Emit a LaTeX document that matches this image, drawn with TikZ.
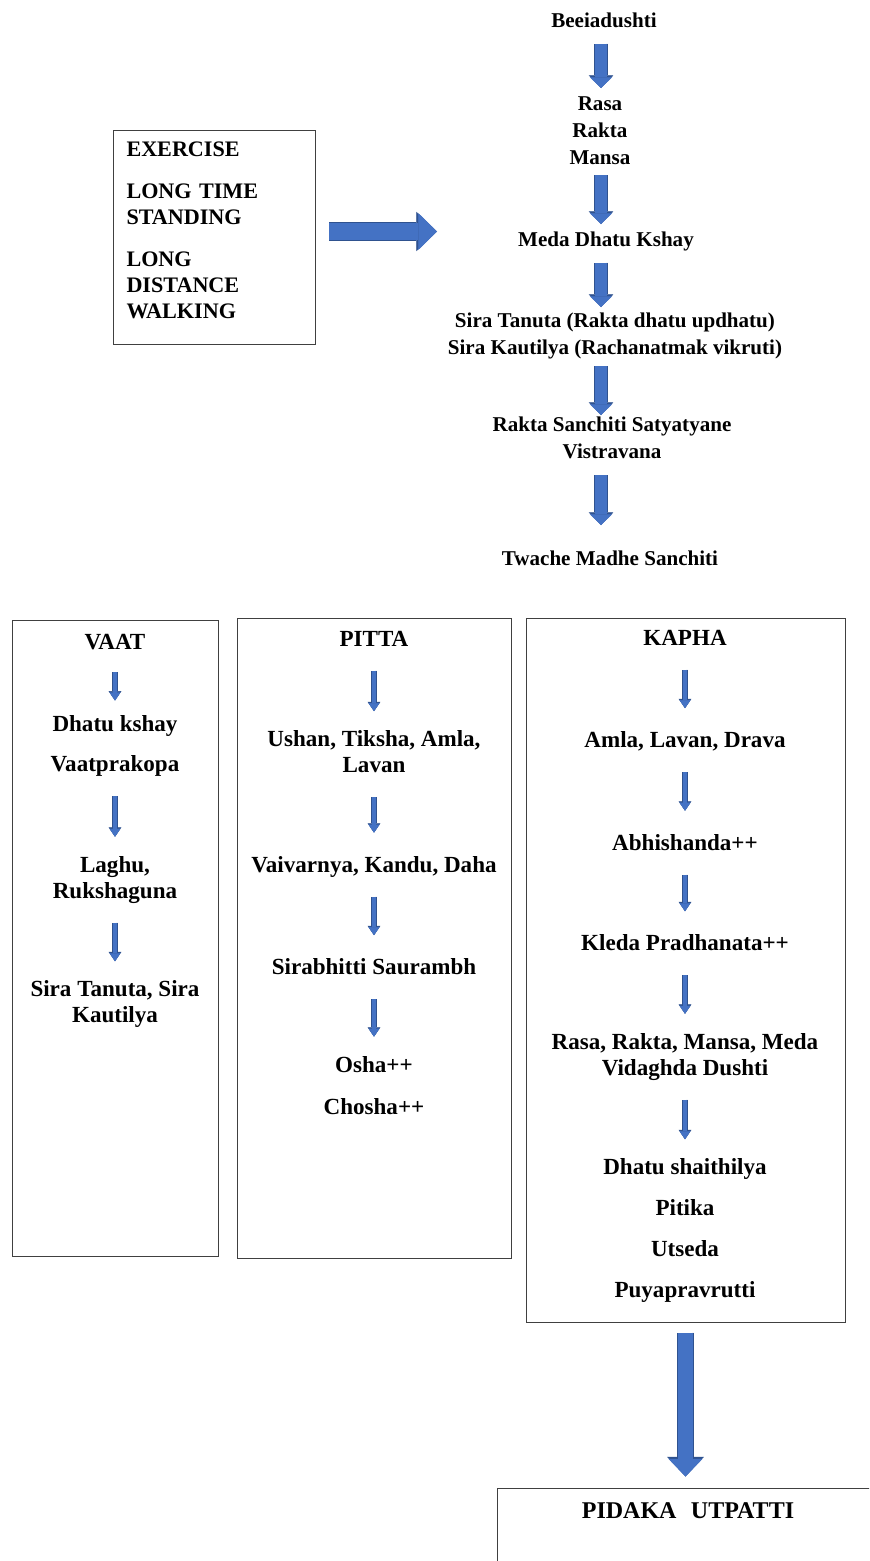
\documentclass[tikz,border=0pt]{standalone}
\usepackage{fontspec}
\setmainfont{Liberation Serif}
\usetikzlibrary{arrows.meta,positioning,fit}
\definecolor{arrowBlue}{RGB}{68,114,196}
\definecolor{arrowEdge}{RGB}{47,82,143}
\definecolor{boxLine}{RGB}{64,64,64}
\newcommand{\stagetop}{\rule{0pt}{15pt}}
\newcommand{\stagebot}{\rule[-5pt]{0pt}{5pt}}
\newcommand{\causetop}{\rule{0pt}{19.5pt}}
\newcommand{\causebot}{\rule[-19.5pt]{0pt}{19.5pt}}
\tikzset{
  panel/.style={draw=boxLine, line width=0.75pt, inner sep=0pt},
  stage/.style={font=\fontsize{15.8}{20.25}\selectfont\bfseries, align=center, inner sep=0pt, anchor=north, execute at begin node=\stagetop, execute at end node=\stagebot},
  item/.style={stage, font=\fontsize{17.3}{19.5}\selectfont\bfseries},
  cause/.style={draw=boxLine, line width=0.75pt, anchor=north west, align=left, text width=132pt, inner xsep=9.75pt, inner ysep=0pt, font=\fontsize{16.6}{19.5}\selectfont\bfseries, execute at begin node=\causetop, execute at end node=\causebot},
  flow/.style={draw=arrowBlue, line width=9.5pt, -{Triangle[length=8pt, width=16.5pt, line width=0.4pt]}, preaction={draw=arrowEdge, line width=11pt, -{Triangle[length=9.5pt, width=18.5pt, line width=0.4pt]}}},
  softflow/.style={draw=arrowBlue, line width=3pt, shorten <=13pt, shorten >=14.5pt, -{Triangle[length=6pt, width=8pt, line width=0.3pt]}, preaction={draw=arrowEdge, line width=4pt, -{Triangle[length=7pt, width=9.5pt, line width=0.3pt]}}},
  wideflow/.style={draw=arrowBlue, line width=13pt, -{Triangle[length=14pt, width=27.5pt, line width=0.4pt]}, preaction={draw=arrowEdge, line width=14.5pt, -{Triangle[length=15.5pt, width=29.5pt, line width=0.4pt]}}},
  dropflow/.style={draw=arrowBlue, line width=11.5pt, -{Triangle[length=13.25pt, width=25.5pt, line width=0.4pt]}, preaction={draw=arrowEdge, line width=13pt, -{Triangle[length=14.75pt, width=27.5pt, line width=0.4pt]}}}
}

\begin{document}
\begin{tikzpicture}[x=0.75pt, y=-0.75pt]
    \useasboundingbox (0,0) rectangle (869,1561);
    \fill[white] (0,0) rectangle (869,1561);
    \clip (0,0) rectangle (869,1561);

    % main chain
    \coordinate (spine) at (601,0);
    \node[stage] (beej) at (604,7) {Beeiadushti};
    \node[stage] (dhatus) at (600,96) {Rasa\\Rakta\\Mansa};
    \node[stage] (meda) at (606,226) {Meda Dhatu Kshay};
    \node[stage] (sira) at (615,313) {Sira Tanuta (Rakta dhatu updhatu)\\Sira Kautilya (Rachanatmak vikruti)};
    \node[stage] (sanchiti) at (612,417) {Rakta Sanchiti Satyatyane\\Vistravana};
    \node[stage] (twacha) at (610,545) {Twache Madhe Sanchiti};
    \draw[flow, shorten <=7pt, shorten >=6pt] (beej.south -| spine) -- (dhatus.north -| spine);
    \draw[flow, shorten <=3.2pt, shorten >=1.5pt] (dhatus.south -| spine) -- (meda.north -| spine);
    \draw[flow, shorten <=7pt, shorten >=4.5pt] (meda.south -| spine) -- (sira.north -| spine);
    \draw[flow, shorten <=3.2pt, shorten >=1.5pt] (sira.south -| spine) -- (sanchiti.north -| spine);
    \draw[flow, shorten <=7pt, shorten >=15pt] (sanchiti.south -| spine) -- (twacha.north -| spine);

    % causes
    \node[cause] (cause) at (113,130) {EXERCISE\\[12pt]LONG TIME\\STANDING\\[12pt]LONG\\DISTANCE\\WALKING};
    \coordinate (chainin) at (437,231.5);
    \draw[wideflow, shorten <=9.75pt] (cause.east |- chainin) -- (chainin);

    % dosha panels
    \node[panel, fit={(12,620) (218,1256)}] (vaatbox) {};
    \node[panel, fit={(237,618) (511,1258)}] (pittabox) {};
    \node[panel, fit={(526,618) (845,1322)}] (kaphabox) {};

    \node[item] (vaat) at (115,629) {VAAT};
    \node[item, below=44.5pt of vaat] (vaatkshay) {Dhatu kshay\\[10.5pt]Vaatprakopa};
    \node[item, below=58pt of vaatkshay] (laghu) {Laghu,\\Rukshaguna};
    \node[item, below=56.5pt of laghu] (vaatsira) {Sira Tanuta, Sira\\Kautilya};
    \draw[softflow, shorten <=12.2pt, shorten >=11.25pt] (vaat.south) -- (vaatkshay.north);
    \draw[softflow] (vaatkshay.south) -- (laghu.north);
    \draw[softflow] (laghu.south) -- (vaatsira.north);

    \node[item] (pitta) at (374,626) {PITTA};
    \node[item, below=58pt of pitta] (ushna) {Ushan, Tiksha, Amla,\\Lavan};
    \node[item, below=54.2pt of ushna] (vaivarnya) {Vaivarnya, Kandu, Daha};
    \node[item, below=56.5pt of vaivarnya] (sirabhitti) {Sirabhitti Saurambh};
    \node[item, below=55.7pt of sirabhitti] (osha) {Osha++\\[12pt]Chosha++};
    \draw[softflow] (pitta.south) -- (ushna.north);
    \draw[softflow] (ushna.south) -- (vaivarnya.north);
    \draw[softflow] (vaivarnya.south) -- (sirabhitti.north);
    \draw[softflow] (sirabhitti.south) -- (osha.north);

    \node[item] (kapha) at (685,625) {KAPHA};
    \node[item, below=56.5pt of kapha] (amla) {Amla, Lavan, Drava};
    \node[item, below=56.5pt of amla] (abhishanda) {Abhishanda++};
    \node[item, below=55pt of abhishanda] (kleda) {Kleda Pradhanata++};
    \node[item, below=56.5pt of kleda] (vidagdha) {Rasa, Rakta, Mansa, Meda\\Vidaghda Dushti};
    \node[item, below=57.2pt of vidagdha] (shaithilya) {Dhatu shaithilya\\[11.25pt]Pitika\\[11.25pt]Utseda\\[11.25pt]Puyapravrutti};
    \draw[softflow] (kapha.south) -- (amla.north);
    \draw[softflow] (amla.south) -- (abhishanda.north);
    \draw[softflow] (abhishanda.south) -- (kleda.north);
    \draw[softflow] (kleda.south) -- (vidagdha.north);
    \draw[softflow] (vidagdha.south) -- (shaithilya.north);

    % outcome
    \node[panel, fit={(497,1488) (880,1580)}] (pidakabox) {};
    \node[item, font=\fontsize{18}{19.5}\selectfont\bfseries] (pidaka) at (688,1498) {PIDAKA\hspace{0.6em}UTPATTI};
    \draw[dropflow, shorten <=7.5pt, shorten >=8.25pt] (kaphabox.south) -- (kaphabox.south |- pidakabox.north);
\end{tikzpicture}
\end{document}
